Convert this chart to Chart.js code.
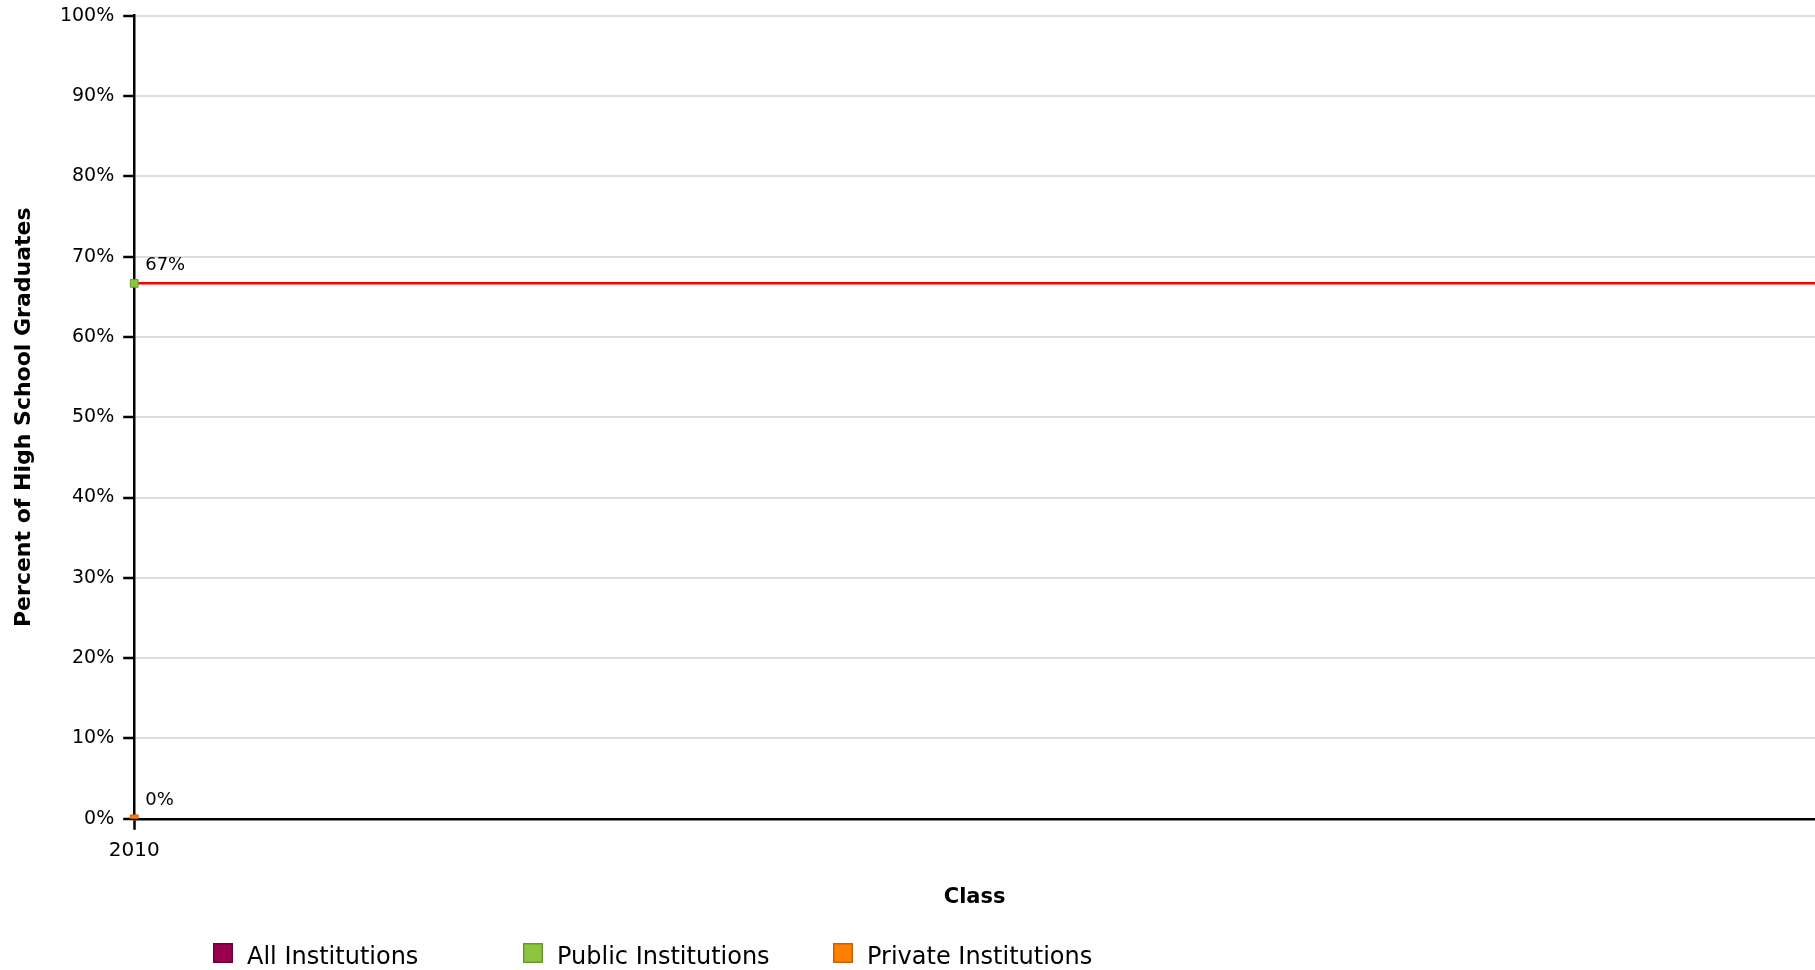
<!DOCTYPE html>
<html>
<head>
<meta charset="utf-8">
<script src="https://cdn.jsdelivr.net/npm/chart.js@4.4.1/dist/chart.umd.min.js"></script>
<style>
    body { margin: 0; background: #fff; }
    #wrap { width: 1815px; height: 970px; position: relative; }
</style>
</head>
<body>
<div id="wrap"><canvas id="gradChart"></canvas></div>
<script>
// chart data
const classYears = ['2010'];
const allInstitutions = [null];
const publicInstitutions = [66.67];
const privateInstitutions = [0];
const redLine = [66.67, 66.67];
const yTicks = [0, 10, 20, 30, 40, 50, 60, 70, 80, 90, 100];

Chart.defaults.font.family = 'DejaVu Sans';
Chart.defaults.color = '#000';

// value labels next to the points ("67%", "0%")
const pointLabels = {
    id: 'pointLabels',
    afterDatasetsDraw(chart) {
        const ctx = chart.ctx;
        ctx.save();
        ctx.font = '18px DejaVu Sans';
        ctx.fillStyle = '#000';
        ctx.textAlign = 'left';
        ctx.textBaseline = 'middle';
        chart.data.datasets.forEach((ds, i) => {
            if (!ds.showValue) return;
            const meta = chart.getDatasetMeta(i);
            meta.data.forEach((pt, j) => {
                const v = ds.data[j];
                if (v === null || v === undefined) return;
                ctx.fillText(Math.round(v) + '%', pt.x + 11, pt.y - 18);
            });
        });
        ctx.restore();
    }
};

// legend in fixed columns at the bottom
const columnLegend = {
    id: 'columnLegend',
    afterDraw(chart) {
        const ctx = chart.ctx;
        ctx.save();
        ctx.font = '24px DejaVu Sans';
        ctx.textBaseline = 'alphabetic';
        ctx.textAlign = 'left';
        let x = 213;
        chart.data.datasets.forEach(ds => {
            if (!ds.inLegend) return;
            ctx.fillStyle = ds.pointBackgroundColor;
            ctx.fillRect(x, 943, 20, 20);
            ctx.strokeStyle = ds.pointBorderColor;
            ctx.lineWidth = 1.5;
            ctx.strokeRect(x + 0.75, 943.75, 18.5, 18.5);
            ctx.fillStyle = '#000';
            ctx.fillText(ds.label, x + 34, 964);
            x += 310;
        });
        ctx.restore();
    }
};

const ctx = document.getElementById('gradChart').getContext('2d');
new Chart(ctx, {
    type: 'line',
    data: {
        labels: classYears,
        datasets: [
            {
                label: 'All Institutions',
                data: allInstitutions,
                borderColor: '#990050',
                pointBackgroundColor: '#990050',
                pointBorderColor: '#6b0038',
                pointStyle: 'rect',
                pointRadius: 5.5,
                showValue: true,
                inLegend: true,
                order: 1
            },
            {
                label: 'Public Institutions',
                data: publicInstitutions,
                borderColor: '#8cc63f',
                pointBackgroundColor: '#8cc63f',
                pointBorderColor: '#6a9a2c',
                pointStyle: 'rect',
                pointRadius: 5.5,
                showValue: true,
                inLegend: true,
                order: 2
            },
            {
                label: 'Private Institutions',
                data: privateInstitutions,
                borderColor: '#ff8000',
                pointBackgroundColor: '#ff8000',
                pointBorderColor: '#c86400',
                pointStyle: 'rect',
                pointRadius: 5.5,
                showValue: true,
                inLegend: true,
                order: 3
            },
            {
                label: 'Reference',
                data: redLine,
                xAxisID: 'xLine',
                borderColor: '#ff0000',
                borderWidth: 2.5,
                pointRadius: 0,
                order: 10
            }
        ]
    },
    options: {
        responsive: true,
        maintainAspectRatio: false,
        animation: false,
        layout: {
            autoPadding: false,
            padding: { left: 11, right: 0, top: 1, bottom: 59.5 }
        },
        plugins: {
            legend: { display: false },
            tooltip: { enabled: false }
        },
        scales: {
            x: {
                offset: false,
                grid: {
                    drawOnChartArea: false,
                    tickLength: 11,
                    tickColor: '#000',
                    tickWidth: 2.5
                },
                border: { color: '#000', width: 2.5 },
                ticks: { font: { size: 20 }, padding: 9 },
                title: {
                    display: true,
                    text: 'Class',
                    font: { size: 21, weight: 'bold' },
                    padding: { top: 13.5, bottom: 0 }
                }
            },
            xLine: {
                type: 'category',
                labels: ['', ''],
                display: false,
                offset: false
            },
            y: {
                min: 0,
                max: 100,
                afterBuildTicks(axis) {
                    axis.ticks = yTicks.map(v => ({ value: v }));
                },
                grid: {
                    color: '#dddddd',
                    lineWidth: 2,
                    tickLength: 11,
                    tickColor: '#000',
                    tickWidth: 2.5
                },
                border: { color: '#000', width: 2.5 },
                ticks: {
                    font: { size: 19, lineHeight: 0.7 },
                    padding: 9,
                    callback: v => v + '%'
                },
                title: {
                    display: true,
                    text: 'Percent of High School Graduates',
                    font: { size: 22, weight: 'bold' },
                    padding: { top: 0, bottom: 13.5 }
                }
            }
        }
    },
    plugins: [pointLabels, columnLegend]
});
</script>
</body>
</html>
